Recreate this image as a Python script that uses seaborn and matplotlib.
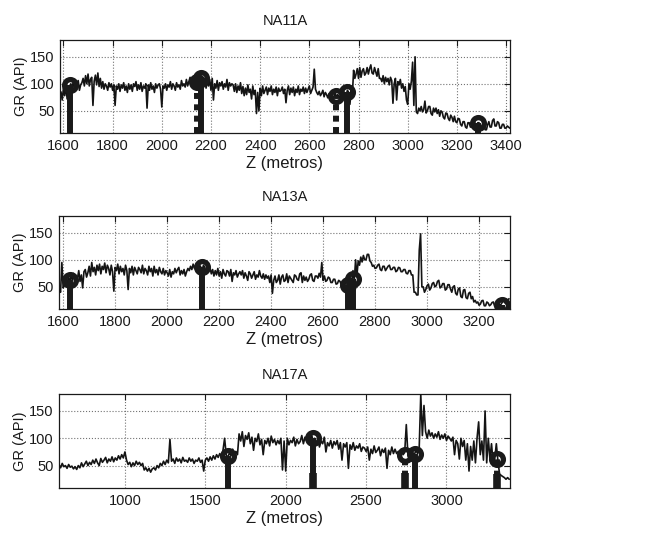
import numpy as np
import matplotlib
matplotlib.use("Agg")
import matplotlib.pyplot as plt
import seaborn as sns

# ---------------- data ----------------
# NA11A : GR log, one sample every 5 m starting at 1590 m
na11a_start, na11a_step = 1590, 5
na11a_gr = [
    85, 70, 92, 78, 95, 72, 96, 88, 100, 92,
    104, 90, 100, 94, 106, 88, 98, 102, 110, 96,
    115, 100, 118, 96, 108, 112, 60, 105, 116, 98,
    120, 95, 110, 92, 104, 90, 100, 96, 88, 102,
    94, 100, 88, 98, 60, 96, 90, 100, 86, 98,
    92, 102, 88, 96, 84, 100, 90, 98, 86, 100,
    95, 104, 88, 98, 90, 102, 86, 96, 92, 100,
    55, 98, 88, 102, 90, 96, 84, 100, 92, 98,
    100, 90, 57, 96, 92, 100, 88, 98, 94, 104,
    90, 100, 96, 88, 102, 94, 98, 90, 106, 96,
    100, 94, 108, 96, 104, 112, 98, 106, 100, 110,
    102, 108, 96, 112, 100, 106, 98, 110, 92, 104,
    96, 108, 88, 110, 70, 100, 92, 106, 88, 102,
    96, 104, 90, 100, 94, 108, 88, 102, 96, 100,
    98, 86, 100, 84, 96, 88, 102, 82, 95, 78,
    92, 80, 98, 84, 90, 72, 96, 80, 88, 45,
    84, 50, 92, 78, 96, 82, 88, 94, 80, 92,
    86, 96, 80, 90, 84, 94, 78, 92, 86, 88,
    94, 82, 90, 65, 88, 96, 80, 92, 84, 94,
    78, 90, 84, 96, 80, 90, 86, 94, 82, 92,
    84, 90, 96, 82, 88, 94, 127, 90, 84, 80,
    86, 78, 82, 88, 76, 84, 80, 74, 82, 76,
    80, 72, 76, 84, 74, 80, 78, 72, 84, 76,
    86, 74, 80, 88, 84, 62, 88, 80, 125, 110,
    118, 128, 110, 130, 112, 124, 128, 116, 120, 130,
    118, 128, 135, 120, 118, 130, 122, 114, 128, 110,
    110, 104, 115, 100, 112, 104, 110, 98, 112, 106,
    64, 100, 110, 70, 104, 98, 108, 92, 100, 86,
    95, 70, 62, 100, 90, 105, 140, 60, 150, 48,
    45, 55, 50, 58, 48, 52, 68, 46, 50, 58,
    58, 45, 42, 55, 48, 55, 45, 52, 40, 50,
    48, 38, 35, 46, 45, 36, 32, 42, 38, 30,
    40, 30, 28, 36, 35, 25, 22, 30, 30, 20,
    18, 28, 28, 20, 20, 30, 35, 22, 22, 28,
    28, 18, 18, 25, 25, 15, 15, 24, 30, 20,
    20, 32, 35, 22, 22, 30, 28, 18, 18, 25,
    25, 18, 18, 22, 20, 18,
]
na11a_stem_z = [1627, 2142, 2160, 2707, 2755, 3284]
na11a_stem_gr = [97, 103, 111, 77, 84, 27]
na11a_stem_dashed = [False, True, False, True, False, False]
na11a_bar_z = []
na11a_bar_gr = []

# NA13A : GR log, one sample every 5 m starting at 1586 m
na13a_start, na13a_step = 1586, 5
na13a_gr = [
    45, 40, 95, 48, 52, 60, 55, 68, 58, 72,
    62, 75, 58, 70, 65, 80, 60, 72, 48, 78,
    82, 68, 76, 88, 70, 95, 78, 86, 72, 90,
    80, 92, 74, 88, 82, 94, 76, 90, 84, 72,
    90, 78, 42, 86, 80, 92, 74, 88, 78, 84,
    72, 90, 80, 45, 84, 76, 88, 72, 86, 80,
    74, 86, 82, 76, 90, 74, 84, 80, 72, 88,
    78, 84, 70, 88, 76, 82, 72, 86, 78, 74,
    84, 72, 80, 76, 70, 82, 68, 78, 74, 84,
    76, 82, 86, 72, 80, 74, 82, 70, 78, 84,
    80, 88, 82, 92, 84, 90, 94, 80, 90, 86,
    82, 90, 86, 74, 88, 80, 85, 74, 82, 70,
    80, 72, 84, 70, 78, 66, 82, 74, 70, 80,
    78, 70, 82, 60, 76, 72, 80, 68, 74, 78,
    72, 80, 66, 76, 70, 62, 78, 74, 66, 72,
    78, 64, 72, 68, 80, 70, 66, 74, 64, 72,
    66, 70, 58, 72, 38, 62, 70, 58, 62, 72,
    55, 68, 72, 60, 62, 74, 58, 70, 66, 62,
    58, 72, 70, 64, 62, 74, 76, 58, 70, 62,
    68, 60, 64, 72, 74, 62, 60, 70, 70, 66,
    75, 68, 95, 62, 70, 60, 62, 68, 66, 58,
    58, 64, 64, 55, 56, 62, 60, 54, 54, 60,
    58, 52, 50, 60, 62, 55, 80, 62, 100, 70,
    98, 90, 105, 96, 108, 100, 100, 110, 110, 98,
    95, 88, 90, 84, 85, 90, 92, 82, 80, 88,
    88, 80, 84, 88, 90, 82, 82, 86, 86, 78,
    80, 86, 85, 78, 78, 82, 82, 75, 74, 80,
    80, 72, 72, 40, 40, 35, 35, 118, 148, 50,
    50, 40, 45, 52, 55, 44, 48, 56, 58, 50,
    52, 60, 62, 48, 50, 56, 56, 44, 46, 54,
    54, 46, 40, 50, 52, 38, 35, 46, 48, 32,
    30, 44, 45, 30, 28, 38, 40, 28, 32, 22,
    25, 20, 22, 16, 18, 24, 25, 15, 15, 22,
    20, 15, 17, 21, 22, 14, 15, 20, 20, 16,
    18, 22, 25, 20, 18, 24, 28,
]
na13a_stem_z = [1626, 2135, 2698, 2717, 3289]
na13a_stem_gr = [62, 87, 53, 64, 17]
na13a_stem_dashed = [False, False, False, False, False]
na13a_bar_z = []
na13a_bar_gr = []

# NA17A : GR log, one sample every 10 m starting at 590 m
na17a_start, na17a_step = 590, 10
na17a_gr = [
    52, 46, 54, 48, 50, 45, 52, 47, 49, 44,
    48, 43, 50, 46, 55, 48, 53, 58, 50, 56,
    52, 60, 54, 62, 55, 50, 63, 56, 60, 65,
    55, 62, 58, 66, 57, 64, 60, 68, 62, 70,
    64, 75, 60, 52, 56, 48, 55, 50, 58, 52,
    56, 50, 54, 42, 46, 40, 45, 38, 44, 46,
    42, 50, 46, 54, 50, 58, 52, 60, 55, 98,
    58, 62, 54, 64, 58, 62, 55, 65, 58, 60,
    56, 64, 58, 62, 54, 60, 58, 64, 56, 60,
    40, 60, 64, 58, 66, 60, 68, 62, 70, 65,
    72, 66, 78, 100, 70, 64, 74, 68, 80, 72,
    76, 70, 108, 95, 112, 85, 105, 98, 110, 90,
    102, 78, 100, 94, 108, 88, 98, 70, 96, 90,
    100, 86, 104, 92, 98, 88, 96, 90, 100, 42,
    95, 40, 100, 88, 96, 92, 102, 86, 98, 90,
    94, 105, 90, 102, 96, 100, 92, 108, 95, 100,
    88, 98, 84, 95, 90, 102, 75, 92, 86, 96,
    82, 94, 88, 96, 80, 92, 60, 90, 84, 92,
    45, 88, 80, 92, 78, 86, 82, 90, 76, 84,
    82, 76, 84, 60, 80, 72, 86, 74, 78, 84,
    68, 80, 74, 82, 45, 78, 70, 84, 72, 80,
    72, 76, 68, 80, 70, 74, 125, 70, 78, 66,
    74, 70, 78, 72, 80, 180, 105, 160, 112, 100,
    115, 104, 110, 100, 108, 102, 112, 98, 106, 100,
    108, 96, 104, 100, 95, 102, 70, 96, 90, 62,
    100, 85, 96, 60, 90, 40, 85, 60, 95, 55,
    100, 130, 70, 95, 60, 150, 55, 100, 62, 90,
    55, 62, 90, 58, 35, 32, 30, 28, 25, 28,
    25,
]
na17a_stem_z = [1639, 2168, 2742, 2805, 3312]
na17a_stem_gr = [68, 100, 70, 72, 62]
na17a_stem_dashed = [False, False, True, False, True]
na17a_bar_z = [2172, 2742, 3312]
na17a_bar_gr = [37, 37, 35]

titles = ["NA11A", "NA13A", "NA17A"]
xlabel = "Z (metros)"
ylabel = "GR (API)"
yticks = [50, 100, 150]
xticks_list = [
    [1600, 1800, 2000, 2200, 2400, 2600, 2800, 3000, 3200, 3400],
    [1600, 1800, 2000, 2200, 2400, 2600, 2800, 3000, 3200],
    [1000, 1500, 2000, 2500, 3000],
]
xlims = [(1586, 3416), (1585, 3320), (590, 3395)]
ylim = (9, 181)

# ---------------- plotting ----------------
sns.set_theme(style="white")
plt.rcParams["font.family"] = ["Liberation Sans", "DejaVu Sans"]
plt.rcParams["lines.scale_dashes"] = True

fig = plt.figure(figsize=(6.62, 5.35), dpi=100)
W, H = 662, 535
boxes = [(60, 40, 510, 133), (59, 216, 510, 309), (59, 394, 510, 488)]
logs = [
    (na11a_start, na11a_step, na11a_gr, na11a_stem_z, na11a_stem_gr, na11a_stem_dashed, na11a_bar_z, na11a_bar_gr),
    (na13a_start, na13a_step, na13a_gr, na13a_stem_z, na13a_stem_gr, na13a_stem_dashed, na13a_bar_z, na13a_bar_gr),
    (na17a_start, na17a_step, na17a_gr, na17a_stem_z, na17a_stem_gr, na17a_stem_dashed, na17a_bar_z, na17a_bar_gr),
]

for i, (box, log) in enumerate(zip(boxes, logs)):
    x0, y0, x1, y1 = box
    ax = fig.add_axes([x0 / W, 1 - y1 / H, (x1 - x0) / W, (y1 - y0) / H])
    start, step, gr, sz, sgr, sdash, bz, bgr = log
    z = start + step * np.arange(len(gr))
    sns.lineplot(x=z, y=gr, ax=ax, color="#141414", lw=1.2,
                 estimator=None, sort=False, zorder=3)
    # stems
    for zz, gg, dd in zip(sz, sgr, sdash):
        if dd:
            ax.vlines(zz, ylim[0], gg, colors="k", lw=4.3,
                      linestyles=[(0, (1.0, 0.9))], zorder=4, capstyle="butt")
        else:
            ax.vlines(zz, ylim[0], gg, colors="k", lw=4.3, zorder=4)
    for zz, gg in zip(bz, bgr):
        ax.vlines(zz, ylim[0], gg, colors="k", lw=5.5, zorder=4)
    ax.plot(sz, sgr, "o", ms=8.5, mfc="none", mec="k", mew=3.8, zorder=5)

    ax.set_xlim(*xlims[i])
    ax.set_ylim(*ylim)
    ax.set_xticks(xticks_list[i])
    ax.set_yticks(yticks)
    ax.grid(True, linestyle=":", color="0.45", linewidth=0.8)
    ax.tick_params(direction="in", top=True, right=True, length=4,
                   width=0.8, labelsize=10.5, colors="k", pad=4)
    for sp in ax.spines.values():
        sp.set_visible(True)
        sp.set_color("k")
        sp.set_linewidth(0.9)
    ax.set_title(titles[i], fontsize=10.5, pad=10.5, color="k")
    ax.set_xlabel(xlabel, fontsize=12, labelpad=2.5, color="k")
    ax.set_ylabel(ylabel, fontsize=10.5, labelpad=1, color="k")

fig.savefig("out.png", dpi=100)
